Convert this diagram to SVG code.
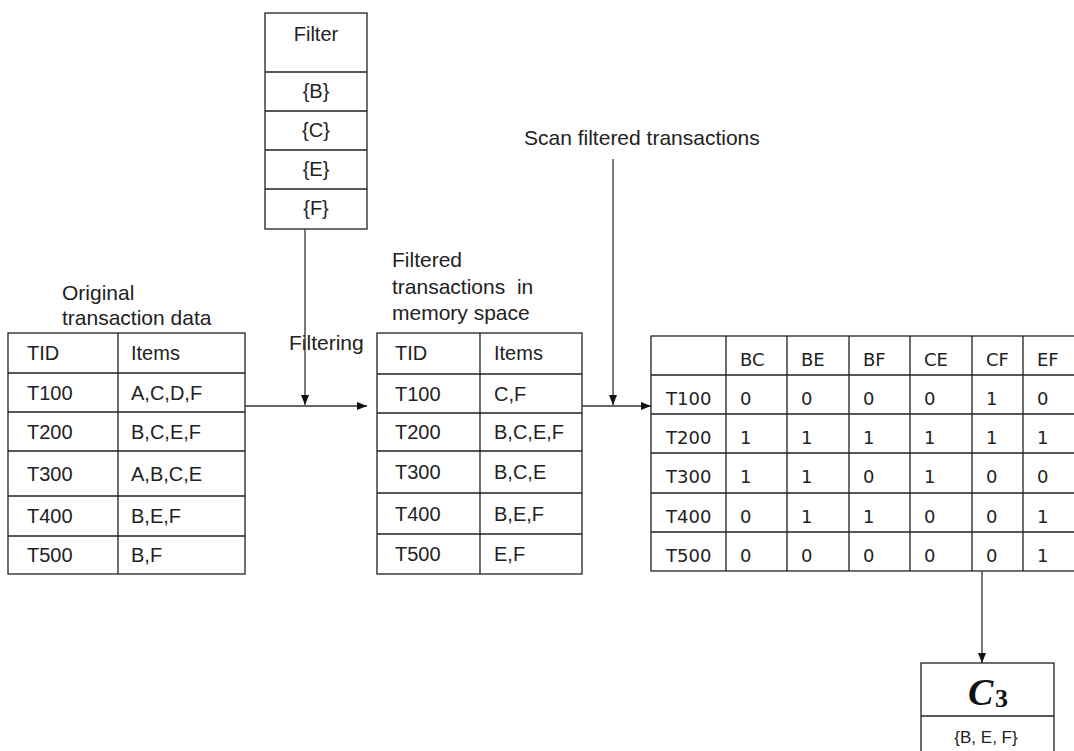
<svg xmlns="http://www.w3.org/2000/svg" width="1074" height="751" viewBox="0 0 1074 751">
<style>
.t{font-family:"Liberation Sans",Arial,sans-serif;font-size:20px;fill:#222}
.lbl{font-family:"Liberation Sans",Arial,sans-serif;font-size:21px;fill:#222;white-space:pre}
.m{font-family:"DejaVu Sans",sans-serif;font-size:18px;fill:#222}
.c{text-anchor:middle}
.box{fill:#fff;stroke:#222;stroke-width:1.3}
.ln{stroke:#222;stroke-width:1.3;fill:none}
.cn{stroke:#333;stroke-width:1.3;fill:none}
</style>
<defs>
<marker id="ah" viewBox="0 0 10 10" refX="10" refY="5" markerWidth="10" markerHeight="10" markerUnits="userSpaceOnUse" orient="auto">
<path d="M0,1 L10,5 L0,9 Z" fill="#111"/>
</marker>
</defs>
<rect width="1074" height="751" fill="#fff"/>

<g id="filter">
<rect class="box" x="265" y="13" width="102" height="216"/>
<path class="ln" d="M265,72H367M265,111H367M265,150H367M265,189H367"/>
<text class="t c" x="316" y="41">Filter</text>
<text class="t c" x="316" y="98">{B}</text>
<text class="t c" x="316" y="137">{C}</text>
<text class="t c" x="316" y="176">{E}</text>
<text class="t c" x="316" y="215">{F}</text>
</g>

<g id="labels">
<text class="lbl" x="62" y="300">Original</text>
<text class="lbl" x="62" y="325">transaction data</text>
<text class="lbl" x="392" y="267">Filtered</text>
<text class="lbl" x="392" y="294">transactions  in</text>
<text class="lbl" x="392" y="320">memory space</text>
<text class="lbl" x="524" y="145">Scan filtered transactions</text>
<text class="lbl" x="289" y="350">Filtering</text>
</g>

<g id="original">
<rect class="box" x="8" y="333" width="237" height="241"/>
<path class="ln" d="M118,333V574M8,373H245M8,412H245M8,451H245M8,496H245M8,536H245"/>
<text class="t" x="27" y="360">TID</text><text class="t" x="131" y="360">Items</text>
<text class="t" x="27" y="399.5">T100</text><text class="t" x="131" y="399.5">A,C,D,F</text>
<text class="t" x="27" y="438.5">T200</text><text class="t" x="131" y="438.5">B,C,E,F</text>
<text class="t" x="27" y="480.5">T300</text><text class="t" x="131" y="480.5">A,B,C,E</text>
<text class="t" x="27" y="523">T400</text><text class="t" x="131" y="523">B,E,F</text>
<text class="t" x="27" y="562">T500</text><text class="t" x="131" y="562">B,F</text>
</g>

<g id="filtered">
<rect class="box" x="377" y="333" width="205" height="241"/>
<path class="ln" d="M480,333V574M377,374H582M377,413H582M377,451H582M377,493H582M377,534H582"/>
<text class="t" x="395" y="360">TID</text><text class="t" x="494" y="360">Items</text>
<text class="t" x="395" y="400.5">T100</text><text class="t" x="494" y="400.5">C,F</text>
<text class="t" x="395" y="439">T200</text><text class="t" x="494" y="439">B,C,E,F</text>
<text class="t" x="395" y="479">T300</text><text class="t" x="494" y="479">B,C,E</text>
<text class="t" x="395" y="520.5">T400</text><text class="t" x="494" y="520.5">B,E,F</text>
<text class="t" x="395" y="561">T500</text><text class="t" x="494" y="561">E,F</text>
</g>

<g id="matrix">
<rect class="box" x="651" y="336" width="440" height="235"/>
<path class="ln" d="M726,336V571M787,336V571M849,336V571M910,336V571M972,336V571M1023,336V571M651,375H1080M651,414H1080M651,453H1080M651,493H1080M651,532H1080"/>
<text class="m" x="740" y="366">BC</text><text class="m" x="801" y="366">BE</text><text class="m" x="863" y="366">BF</text><text class="m" x="924" y="366">CE</text><text class="m" x="986" y="366">CF</text><text class="m" x="1037" y="366">EF</text>
<text class="m" x="666" y="405">T100</text><text class="m" x="740" y="405">0</text><text class="m" x="801" y="405">0</text><text class="m" x="863" y="405">0</text><text class="m" x="924" y="405">0</text><text class="m" x="986" y="405">1</text><text class="m" x="1037" y="405">0</text>
<text class="m" x="666" y="444">T200</text><text class="m" x="740" y="444">1</text><text class="m" x="801" y="444">1</text><text class="m" x="863" y="444">1</text><text class="m" x="924" y="444">1</text><text class="m" x="986" y="444">1</text><text class="m" x="1037" y="444">1</text>
<text class="m" x="666" y="483">T300</text><text class="m" x="740" y="483">1</text><text class="m" x="801" y="483">1</text><text class="m" x="863" y="483">0</text><text class="m" x="924" y="483">1</text><text class="m" x="986" y="483">0</text><text class="m" x="1037" y="483">0</text>
<text class="m" x="666" y="523">T400</text><text class="m" x="740" y="523">0</text><text class="m" x="801" y="523">1</text><text class="m" x="863" y="523">1</text><text class="m" x="924" y="523">0</text><text class="m" x="986" y="523">0</text><text class="m" x="1037" y="523">1</text>
<text class="m" x="666" y="562">T500</text><text class="m" x="740" y="562">0</text><text class="m" x="801" y="562">0</text><text class="m" x="863" y="562">0</text><text class="m" x="924" y="562">0</text><text class="m" x="986" y="562">0</text><text class="m" x="1037" y="562">1</text>
</g>

<g id="c3">
<rect class="box" x="921" y="663" width="133" height="120"/>
<path class="ln" d="M921,716H1054"/>
<text x="968" y="705" font-family="'Liberation Serif','Times New Roman',serif" font-size="38" font-weight="bold" font-style="italic" fill="#111">C</text>
<text x="995" y="707" font-family="'Liberation Serif','Times New Roman',serif" font-size="26" font-weight="bold" fill="#111">3</text>
<text class="c" x="986" y="743" font-family="'Liberation Sans',Arial,sans-serif" font-size="17" fill="#222">{B, E, F}</text>
</g>

<g id="connectors">
<path class="cn" d="M245,406H367" marker-end="url(#ah)"/>
<path class="cn" d="M305,229V405" marker-end="url(#ah)"/>
<path class="cn" d="M582,406H651" marker-end="url(#ah)"/>
<path class="cn" d="M613,159V405" marker-end="url(#ah)"/>
<path class="cn" d="M982,571V663" marker-end="url(#ah)"/>
</g>
</svg>
